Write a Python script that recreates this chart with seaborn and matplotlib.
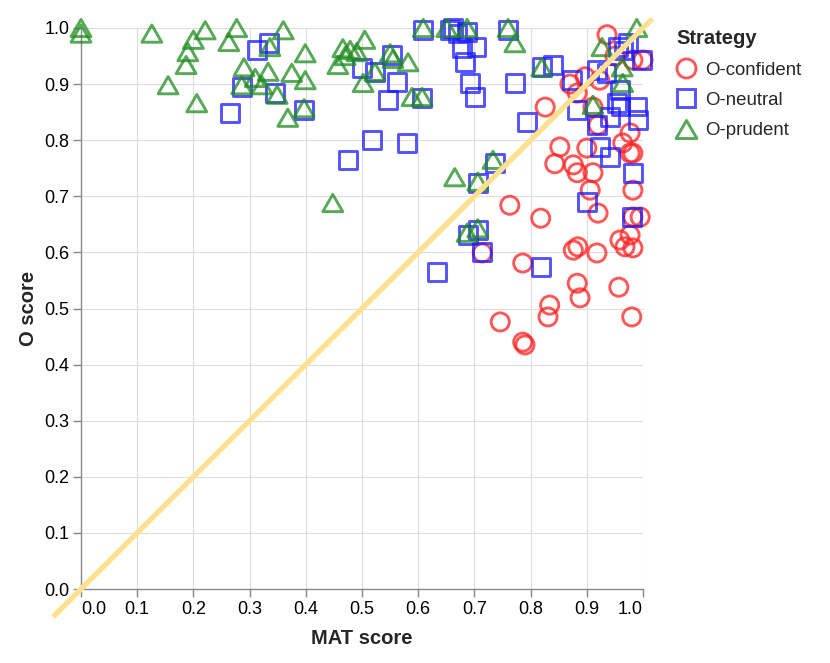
import matplotlib
matplotlib.use("Agg")
import matplotlib.pyplot as plt
from matplotlib.path import Path
from matplotlib.lines import Line2D
import seaborn as sns
import pandas as pd

# ---------------- data ----------------
strategies = ["O-confident", "O-neutral", "O-prudent"]

confident_mat = [0.843, 0.852, 0.883, 0.876, 0.911, 0.900, 0.906, 0.920, 0.982, 0.982, 0.995, 0.977,
                 0.763, 0.818, 0.714, 0.786, 0.876, 0.884, 0.918, 0.959, 0.968, 0.982, 0.977, 0.883,
                 0.888, 0.957, 0.834, 0.831, 0.980, 0.746, 0.786, 0.790, 0.936, 0.982, 1.000, 0.897,
                 0.923, 0.883, 0.911, 0.826, 0.977, 0.982, 0.964, 0.920, 0.950, 0.870]
confident_o = [0.758, 0.788, 0.742, 0.756, 0.742, 0.786, 0.711, 0.670, 0.711, 0.663, 0.663, 0.777,
               0.684, 0.661, 0.599, 0.581, 0.604, 0.610, 0.599, 0.622, 0.610, 0.608, 0.631, 0.545,
               0.519, 0.538, 0.506, 0.485, 0.485, 0.476, 0.440, 0.435, 0.988, 0.943, 0.943, 0.913,
               0.907, 0.884, 0.859, 0.859, 0.813, 0.777, 0.795, 0.827, 0.950, 0.900]

neutral_mat = [0.265, 0.286, 0.313, 0.335, 0.345, 0.397, 0.475, 0.518, 0.580, 0.500, 0.523, 0.553,
               0.562, 0.546, 0.607, 0.609, 0.657, 0.662, 0.687, 0.678, 0.704, 0.683, 0.692, 0.701,
               0.760, 0.772, 0.794, 0.840, 0.820, 0.874, 0.883, 0.918, 0.956, 0.973, 0.998, 0.959,
               0.954, 0.991, 0.918, 0.941, 0.923, 0.941, 0.982, 0.737, 0.706, 0.900, 0.980, 0.689,
               0.706, 0.714, 0.633, 0.818, 0.670, 0.965, 0.935, 0.990, 0.960]
neutral_o = [0.848, 0.895, 0.961, 0.973, 0.884, 0.854, 0.765, 0.800, 0.795, 0.929, 0.922, 0.952,
             0.904, 0.872, 0.875, 0.996, 0.996, 1.000, 0.993, 0.964, 0.966, 0.939, 0.902, 0.877,
             0.996, 0.902, 0.832, 0.934, 0.930, 0.907, 0.854, 0.925, 0.966, 0.973, 0.943, 0.889,
             0.866, 0.836, 0.827, 0.841, 0.788, 0.770, 0.742, 0.759, 0.724, 0.690, 0.663, 0.631,
             0.640, 0.601, 0.565, 0.574, 0.990, 0.960, 0.920, 0.860, 0.860]

prudent_mat = [0.000, 0.000, 0.126, 0.200, 0.221, 0.190, 0.187, 0.155, 0.206, 0.277, 0.263, 0.290,
               0.286, 0.310, 0.322, 0.336, 0.333, 0.349, 0.360, 0.375, 0.399, 0.399, 0.368, 0.397,
               0.457, 0.466, 0.479, 0.491, 0.505, 0.502, 0.523, 0.550, 0.582, 0.589, 0.607, 0.609,
               0.651, 0.687, 0.760, 0.772, 0.448, 0.665, 0.733, 0.706, 0.687, 0.706, 0.820, 0.911,
               0.927, 0.989, 0.964, 0.963, 0.470, 0.555]
prudent_o = [1.000, 0.990, 0.990, 0.979, 0.996, 0.957, 0.934, 0.898, 0.866, 1.000, 0.975, 0.930,
             0.898, 0.911, 0.898, 0.966, 0.922, 0.881, 0.996, 0.920, 0.955, 0.907, 0.840, 0.857,
             0.934, 0.964, 0.961, 0.957, 0.979, 0.902, 0.922, 0.955, 0.939, 0.877, 0.877, 1.000,
             1.000, 1.000, 1.000, 0.973, 0.688, 0.734, 0.765, 0.726, 0.635, 0.643, 0.930, 0.863,
             0.966, 1.000, 0.902, 0.930, 0.950, 0.945]

x_ticks = [0.0, 0.1, 0.2, 0.3, 0.4, 0.5, 0.6, 0.7, 0.8, 0.9, 1.0]
y_ticks = [0.0, 0.1, 0.2, 0.3, 0.4, 0.5, 0.6, 0.7, 0.8, 0.9, 1.0]
diag = [-0.05, 1.017]

df = pd.concat([
    pd.DataFrame({"MAT": confident_mat, "O": confident_o, "Strategy": "O-confident"}),
    pd.DataFrame({"MAT": neutral_mat, "O": neutral_o, "Strategy": "O-neutral"}),
    pd.DataFrame({"MAT": prudent_mat, "O": prudent_o, "Strategy": "O-prudent"}),
], ignore_index=True)

# ---------------- style ----------------
sns.set_theme(style="white")
plt.rcParams["font.family"] = ["Liberation Sans", "DejaVu Sans"]

W, H = 830, 663
fig = plt.figure(figsize=(W / 100, H / 100), dpi=100)
ax = fig.add_axes([81 / W, 74 / H, 562 / W, 561 / H])

colors = {"O-confident": "#ff2020", "O-neutral": "#1a1aff", "O-prudent": "#1f8c1f"}
tri = Path([(0, 0.433), (-0.5, -0.433), (0.5, -0.433), (0, 0.433)], closed=True)
markers = {"O-confident": "o", "O-neutral": "s", "O-prudent": tri}
sizes = {"O-confident": 170, "O-neutral": 160, "O-prudent": 205}
alpha = 0.75
lw = 2.1

for s in strategies:
    sub = df[df["Strategy"] == s]
    sns.scatterplot(data=sub, x="MAT", y="O", marker=markers[s], s=sizes[s],
                    facecolor="none", edgecolor=colors[s], linewidth=lw, alpha=alpha,
                    ax=ax, clip_on=False, zorder=3, legend=False)

ax.plot(diag, diag, color="#ffe08f", lw=3.8, solid_capstyle="butt", clip_on=False, zorder=6)

ax.set_xlim(0, 1)
ax.set_ylim(0, 1)
ax.set_xticks(x_ticks)
ax.set_yticks(y_ticks)
ax.set_xticklabels([f"{v:.1f}" for v in x_ticks])
ax.set_yticklabels([f"{v:.1f}" for v in y_ticks])
xl = ax.get_xticklabels()
xl[0].set_ha("left")
xl[-1].set_ha("right")

ax.grid(True, color="#dddddd", lw=0.8)
ax.set_axisbelow(True)
for sp in ["top", "right"]:
    ax.spines[sp].set_visible(False)
for sp in ["left", "bottom"]:
    ax.spines[sp].set_color("#888888")
    ax.spines[sp].set_linewidth(1.0)
ax.tick_params(axis="both", which="both", length=5.5, width=1.0, color="#888888",
               labelsize=13, labelcolor="#000000", pad=3, left=True, bottom=True)

ax.set_xlabel("MAT score", fontsize=14.5, fontweight="bold")
ax.set_ylabel("O score", fontsize=14.5, fontweight="bold")
ax.xaxis.label.set_va("center")
ax.yaxis.label.set_va("center")
ax.xaxis.set_label_coords(0.5, -(638 - 589) / 561)
ax.yaxis.set_label_coords(-(81 - 28) / 562, 0.5)

handles = []
for s in strategies:
    handles.append(Line2D([], [], ls="none", marker=markers[s], markersize=(sizes[s]) ** 0.5 * 1.05,
                          markerfacecolor="none", markeredgecolor=colors[s],
                          markeredgewidth=lw, alpha=alpha))
leg = fig.legend(handles, strategies, title="Strategy", loc="upper left",
                 bbox_to_anchor=(671.5 / W, 1 - 24.5 / H), frameon=False, borderpad=0.25,
                 borderaxespad=0, fontsize=13.4, handlelength=1.1, handletextpad=0.45,
                 labelspacing=0.72, alignment="left",
                 title_fontproperties={"weight": "bold", "size": 14.5})

fig.savefig("out.png", dpi=100)
